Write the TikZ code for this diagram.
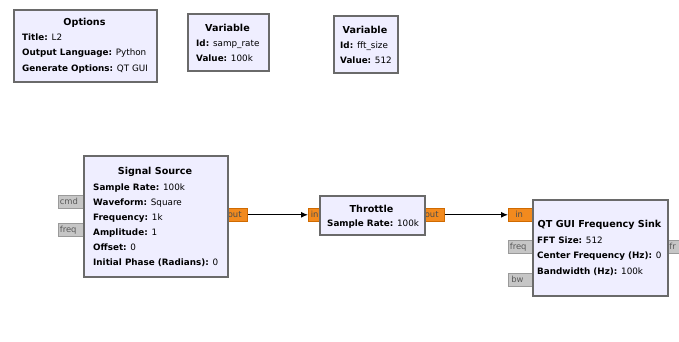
\documentclass[tikz,border=0pt]{standalone}
\usepackage{fontspec}
\setmainfont{DejaVu Sans}
\usetikzlibrary{arrows.meta}
\definecolor{blockfill}{HTML}{EFEEFF}
\definecolor{blockline}{HTML}{6A6A6A}
\definecolor{portorange}{HTML}{F28A1E}
\definecolor{portorangeline}{HTML}{D06A00}
\definecolor{portgray}{HTML}{C6C6C6}
\definecolor{portgrayline}{HTML}{9A9A9A}
\newcommand\kv[2]{\textbf{#1:} #2}
\tikzset{
  block/.style={draw=blockline, line width=1.6pt, fill=blockfill, inner sep=0pt, anchor=north west},
  btitle/.style={font=\fontsize{9.6}{11}\bfseries\selectfont, inner sep=0pt},
  params/.style={font=\fontsize{8.8}{15}\selectfont, inner sep=0pt, align=left, anchor=north west},
  oport/.style={draw=portorangeline, line width=0.6pt, fill=portorange, inner sep=0pt, anchor=north west, minimum height=13pt, font=\fontsize{8.4}{9}\selectfont, text=black!70},
  gport/.style={draw=portgrayline, line width=0.6pt, fill=portgray, inner sep=0pt, anchor=north west, minimum height=13pt, font=\fontsize{8.4}{9}\selectfont, text=black!65},
  conn/.style={draw=black, line width=1.1pt, -{Latex[length=7pt,width=6pt]}}
}
\begin{document}
\begin{tikzpicture}[x=1pt,y=-1pt]
\useasboundingbox[fill=white] (0,0) rectangle (679,341);

% ---- Options ----
\node[block, minimum width=143pt, minimum height=72pt] (opt) at (13,9) {};
\node[btitle] (optt) at (84.5,22.5) {Options};
\node[params, font=\fontsize{8.8}{15.5}\selectfont] (optp) at (22,33.6) {\kv{Title}{L2}\\\kv{Output Language}{Python}\\\kv{Generate Options}{QT GUI}};

% ---- Variable samp_rate ----
\node[block, minimum width=81pt, minimum height=57pt] (var1) at (187,13) {};
\node[btitle] (var1t) at (227.5,28) {Variable};
\node[params] (var1p) at (196,39.6) {\kv{Id}{samp\_rate}\\\kv{Value}{100k}};

% ---- Variable fft_size ----
\node[block, minimum width=64pt, minimum height=57pt] (var2) at (333,15) {};
\node[btitle] (var2t) at (365,30) {Variable};
\node[params] (var2p) at (340,41.6) {\kv{Id}{fft\_size}\\\kv{Value}{512}};

% ---- ports (drawn beneath blocks) ----
\node[gport, minimum width=32pt] (srccmd) at (58,195) {\makebox[32pt][l]{\hspace{1.5pt}cmd}};
\node[gport, minimum width=32pt] (srcfreq) at (58,223) {\makebox[32pt][l]{\hspace{1.5pt}freq}};
\node[oport, minimum width=26pt] (srcout) at (221,208) {\makebox[26pt][l]{\hspace{6.5pt}out}};
\node[oport, minimum width=16pt] (thrin) at (308,208) {\makebox[16pt][l]{\hspace{2.5pt}in}};
\node[oport, minimum width=26pt] (throut) at (418,208) {\makebox[26pt][l]{\hspace{6.5pt}out}};
\node[oport, minimum width=30pt] (snkin) at (508,208) {\makebox[30pt][l]{\hspace{7pt}in}};
\node[gport, minimum width=30pt] (snkfreq) at (508,240) {\makebox[30pt][l]{\hspace{1.5pt}freq}};
\node[gport, minimum width=30pt] (snkbw) at (508,273) {\makebox[30pt][l]{\hspace{3pt}bw}};
\node[gport, minimum width=30pt] (snkfreqo) at (661,240) {\makebox[30pt][l]{\hspace{8pt}fr}};

% ---- Signal Source ----
\node[block, minimum width=144pt, minimum height=121pt] (src) at (83,155) {};
\node[btitle] (srct) at (155,171.5) {Signal Source};
\node[params] (srcp) at (93,183.6) {\kv{Sample Rate}{100k}\\\kv{Waveform}{Square}\\\kv{Frequency}{1k}\\\kv{Amplitude}{1}\\\kv{Offset}{0}\\\kv{Initial Phase (Radians)}{0}};

% ---- Throttle ----
\node[block, minimum width=105pt, minimum height=39pt] (thr) at (319,195) {};
\node[btitle] (thrt) at (371.5,209) {Throttle};
\node[params] (thrp) at (327,219.6) {\kv{Sample Rate}{100k}};

% ---- QT GUI Frequency Sink ----
\node[block, minimum width=135pt, minimum height=96pt] (snk) at (532,199) {};
\node[btitle] (snkt) at (599.5,225) {QT GUI Frequency Sink};
\node[params, font=\fontsize{8.8}{15.5}\selectfont] (snkp) at (537,236.6) {\kv{FFT Size}{512}\\\kv{Center Frequency (Hz)}{0}\\\kv{Bandwidth (Hz)}{100k}};

% ---- connections ----
\draw[conn] (srcout.east) -- (thrin.west);
\draw[conn] (throut.east) -- (snkin.west);
\end{tikzpicture}
\end{document}
